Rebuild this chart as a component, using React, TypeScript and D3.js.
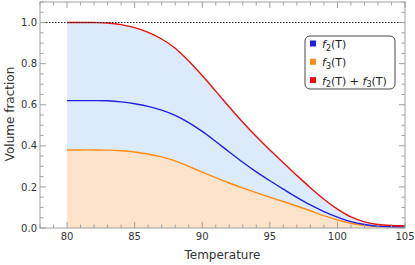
import React from "react";
import * as d3 from "d3";

const temps = [80, 81, 82, 83, 84, 85, 86, 87, 88, 89, 90, 91, 92, 93, 94, 95, 96, 97, 98, 99, 100, 101, 102, 103, 104, 105];
const f2 = [0.62, 0.62, 0.62, 0.619, 0.614, 0.605, 0.592, 0.574, 0.548, 0.513, 0.47, 0.421, 0.37, 0.32, 0.273, 0.23, 0.189, 0.149, 0.112, 0.08, 0.053, 0.031, 0.017, 0.009, 0.006, 0.005];
const f3 = [0.38, 0.38, 0.38, 0.379, 0.376, 0.37, 0.36, 0.346, 0.327, 0.3, 0.272, 0.245, 0.219, 0.195, 0.172, 0.15, 0.129, 0.107, 0.084, 0.06, 0.039, 0.023, 0.013, 0.008, 0.006, 0.006];
const xTicks = [80, 85, 90, 95, 100, 105];
const yTicks = [0, 0.2, 0.4, 0.6, 0.8, 1.0];
const legendItems = [
  { sub: "2", plus: false, color: "#1f1fe0" },
  { sub: "3", plus: false, color: "#ff8a14" },
  { sub: "2", plus: true, color: "#e81010" },
];

const W = 415, H = 265;
const L = 40, R = 405, T = 2, B = 228;
const FONT = "DejaVu Sans";

export default function App() {
  const x = d3.scaleLinear().domain([78, 105]).range([L, R]);
  const y = d3.scaleLinear().domain([0, 1.1]).range([B, T]);
  const data = temps.map((t, i) => ({ t, a: f2[i], b: f3[i], s: f2[i] + f3[i] }));
  const curve = d3.curveCatmullRom.alpha(0.5);
  const line = (acc: (d: any) => number) =>
    d3.line<any>().x((d) => x(d.t)).y((d) => y(acc(d))).curve(curve)(data) || "";
  const areaOrange = d3.area<any>().x((d) => x(d.t)).y0(y(0)).y1((d) => y(d.b)).curve(curve)(data) || "";
  const areaBlue = d3.area<any>().x((d) => x(d.t)).y0((d) => y(d.b)).y1((d) => y(d.s)).curve(curve)(data) || "";

  const xMinor = d3.range(78, 105.01, 1).filter((v) => v % 5 !== 0);
  const yMinor = d3.range(0, 1.101, 0.05).filter((v) => Math.abs(v * 10 - Math.round(v * 10)) > 0.01 || Math.round(v * 10) % 2 === 1);
  const frame = "#a0a0a0";
  return (
    <svg width={W} height={H} style={{ position: "absolute", left: 0, top: 0 }} fontFamily={FONT}>
      <rect x={0} y={0} width={W} height={H} fill="#fff" />
      <path d={areaOrange} fill="#fde3c9" />
      <path d={areaBlue} fill="#dcebfc" />
      <path d={line((d) => d.b)} fill="none" stroke="#ff8a14" strokeWidth={1.4} />
      <path d={line((d) => d.a)} fill="none" stroke="#1f1fe0" strokeWidth={1.4} />
      <path d={line((d) => d.s)} fill="none" stroke="#e81010" strokeWidth={1.4} />
      <line x1={L} x2={R} y1={y(1)} y2={y(1)} stroke="#222" strokeWidth={1.1} strokeDasharray="1.5,1.5" />
      <rect x={L} y={T} width={R - L} height={B - T} fill="none" stroke={frame} strokeWidth={1} />
      {xTicks.map((v) => (
        <g key={"xt" + v}>
          <line x1={x(v)} x2={x(v)} y1={B} y2={B - 6} stroke={frame} />
          <line x1={x(v)} x2={x(v)} y1={T} y2={T + 6} stroke={frame} />
          <text x={x(v)} y={240} fontSize={10} textAnchor="middle" fill="#333">{v}</text>
        </g>
      ))}
      {xMinor.map((v) => (
        <g key={"xm" + v}>
          <line x1={x(v)} x2={x(v)} y1={B} y2={B - 3.5} stroke={frame} />
          <line x1={x(v)} x2={x(v)} y1={T} y2={T + 3.5} stroke={frame} />
        </g>
      ))}
      {yTicks.map((v) => (
        <g key={"yt" + v}>
          <line x1={L} x2={L + 6} y1={y(v)} y2={y(v)} stroke={frame} />
          <line x1={R} x2={R - 6} y1={y(v)} y2={y(v)} stroke={frame} />
          <text x={37} y={y(v) + 3.6} fontSize={10} textAnchor="end" fill="#333">{v.toFixed(1)}</text>
        </g>
      ))}
      {yMinor.map((v) => (
        <g key={"ym" + v}>
          <line x1={L} x2={L + 3.5} y1={y(v)} y2={y(v)} stroke={frame} />
          <line x1={R} x2={R - 3.5} y1={y(v)} y2={y(v)} stroke={frame} />
        </g>
      ))}
      <text x={W / 2 + 15} y={259} fontSize={12} textAnchor="middle" fill="#333">Temperature</text>
      <text transform={`translate(13.5,${114}) rotate(-90)`} fontSize={12} textAnchor="middle" fill="#333">Volume fraction</text>
      <g>
        <rect x={305} y={36} width={90} height={53} rx={5} fill="#fff" stroke="#333" strokeWidth={0.9} />
        {legendItems.map((it, i) => {
          const cy = 44 + i * 18.3;
          return (
            <g key={"lg" + i}>
              <rect x={310} y={cy - 3.5} width={6} height={6} fill={it.color} />
              <text x={322} y={cy + 4} fontSize={11} fill="#222">
                <tspan fontStyle="italic">f</tspan>
                <tspan fontSize={8} dy={2.5}>{it.sub}</tspan>
                <tspan dy={-2.5}>(T)</tspan>
                {it.plus ? (
                  <>
                    <tspan> + </tspan>
                    <tspan fontStyle="italic">f</tspan>
                    <tspan fontSize={8} dy={2.5}>3</tspan>
                    <tspan dy={-2.5}>(T)</tspan>
                  </>
                ) : null}
              </text>
            </g>
          );
        })}
      </g>
    </svg>
  );
}
